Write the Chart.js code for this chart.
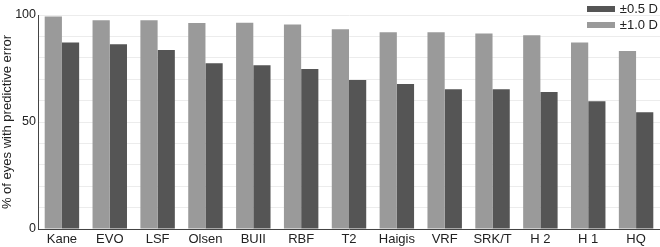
<!DOCTYPE html>
<html>
<head>
<meta charset="utf-8">
<script src="https://cdn.jsdelivr.net/npm/chart.js@4.4.0/dist/chart.umd.min.js"></script>
<style>
  html, body { margin: 0; padding: 0; background: #fff; }
  #wrap { position: relative; width: 660px; height: 247px; }
  .legend { position: absolute; right: 2px; font: 13px "Liberation Sans", Arial, sans-serif; color: #222; display: flex; align-items: center; }
  .legend span.sw { display: inline-block; width: 28px; height: 6px; margin-right: 5px; }
</style>
</head>
<body>
<div id="wrap">
  <canvas id="chart" width="660" height="247"></canvas>
  <div class="legend" style="top:1px"><span class="sw" style="background:#555"></span>±0.5 D</div>
  <div class="legend" style="top:17px"><span class="sw" style="background:#9a9a9a"></span>±1.0 D</div>
</div>
<script>
// fórmulas
const formulas = ["Kane", "EVO", "LSF", "Olsen", "BUII", "RBF", "T2", "Haigis", "VRF", "SRK/T", "H 2", "H 1", "HQ"];
// % dentro de ±1.0 D
const within10 = [99.3, 97.5, 97.5, 96.3, 96.4, 95.6, 93.3, 91.9, 91.9, 91.4, 90.5, 87.2, 83.2];
// % dentro de ±0.5 D
const within05 = [87.1, 86.3, 83.6, 77.4, 76.5, 74.8, 69.6, 67.8, 65.3, 65.3, 64.0, 59.7, 54.5];
const yTicksShown = [0, 50, 100];

const fonte = "'Liberation Sans', Arial, sans-serif";

new Chart(document.getElementById("chart").getContext("2d"), {
    type: "bar",
    data: {
        labels: formulas,
        datasets: [
            { label: "±1.0 D", data: within10, backgroundColor: "#9a9a9a" },
            { label: "±0.5 D", data: within05, backgroundColor: "#555555" }
        ]
    },
    options: {
        responsive: false,
        animation: false,
        layout: { padding: { top: 15, right: 0, left: 0, bottom: 0 } },
        datasets: { bar: { barPercentage: 1, categoryPercentage: 0.72 } },
        plugins: { legend: { display: false }, tooltip: { enabled: false } },
        scales: {
            x: {
                grid: { display: false, drawTicks: false },
                border: { color: "#444", width: 1 },
                ticks: { color: "#222", font: { family: fonte, size: 13 }, padding: 3, maxRotation: 0, autoSkip: false },
                afterFit: s => { s.height = 18; }
            },
            y: {
                min: 0, max: 100,
                grid: { color: "#ececec", drawTicks: false },
                border: { color: "#444", width: 1 },
                ticks: {
                    stepSize: 10,
                    color: "#222",
                    font: { family: fonte, size: 12.5 },
                    padding: 2,
                    callback: v => yTicksShown.includes(v) ? v : ""
                },
                title: { display: true, text: "% of eyes with predictive error", color: "#222", font: { family: fonte, size: 13 }, padding: 0 },
                afterFit: s => { s.width = 38; }
            }
        }
    }
});
</script>
</body>
</html>
